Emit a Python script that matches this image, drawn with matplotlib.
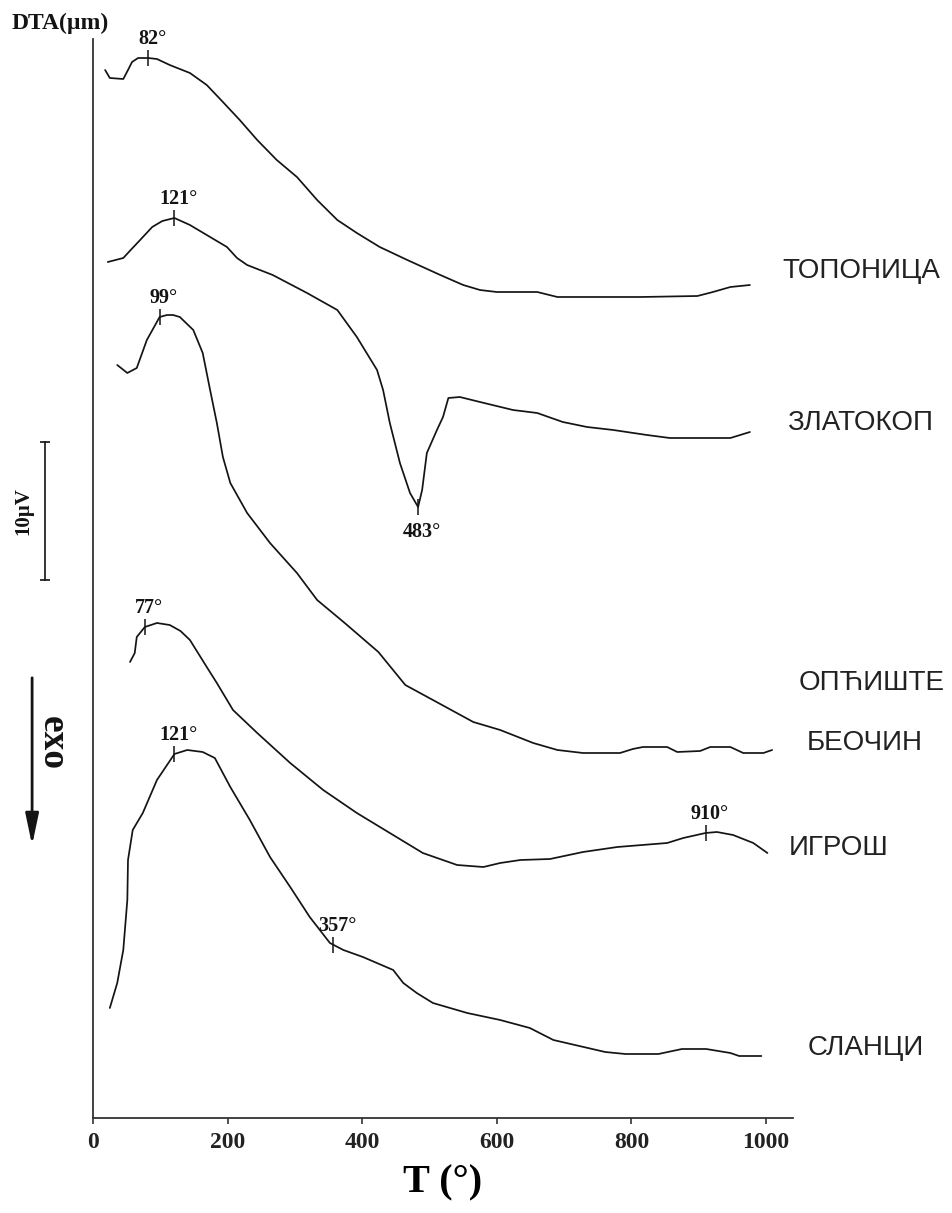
import numpy as np
import matplotlib
matplotlib.use("Agg")
import matplotlib.pyplot as plt

# DTA traces, temperature in deg C, signal in chart units (138 units = 10 uV)
T_TOPONICA = [18, 25, 45, 52, 58, 67, 82, 95, 114, 144, 169, 193, 218, 244, 273, 303, 333,
              363, 392, 426, 467, 516, 550, 575, 600, 660, 690, 813, 898, 921, 947, 976]
Y_TOPONICA = [1048, 1040, 1039, 1048, 1056, 1060, 1060, 1059, 1053, 1045, 1033, 1016, 998, 978,
              958, 941, 918, 898, 885, 871, 858, 843, 833, 828, 826, 826, 821, 821, 822, 826, 831, 833]

T_ZLATOKOP = [22, 45, 56, 70, 88, 103, 121, 144, 169, 199, 214, 229, 267, 318, 363, 392, 422,
              431, 441, 456, 471, 483, 489, 496, 511, 520, 528, 545, 575, 624, 660, 698, 734,
              773, 823, 857, 947, 976]
Y_ZLATOKOP = [856, 860, 868, 878, 891, 897, 900, 893, 883, 871, 860, 853, 843, 825, 808, 781,
              748, 728, 695, 655, 625, 611, 628, 665, 688, 701, 720, 721, 716, 708, 705, 696,
              691, 688, 683, 680, 680, 686]

T_BEOCIN = [36, 51, 65, 80, 99, 110, 119, 129, 149, 163, 174, 184, 193, 204, 229, 263, 303,
            333, 374, 424, 464, 505, 565, 605, 654, 690, 728, 783, 802, 817, 853, 868, 902,
            917, 947, 966, 996, 1009]
Y_BEOCIN = [753, 745, 750, 778, 801, 803, 803, 801, 788, 765, 728, 695, 661, 635, 605, 575, 545,
            518, 495, 466, 433, 418, 396, 388, 375, 368, 365, 365, 369, 371, 371, 366, 367,
            371, 371, 365, 365, 368]

T_IGROS = [55, 62, 65, 77, 95, 114, 130, 144, 169, 184, 208, 244, 293, 342, 392, 441, 490, 541,
           580, 605, 635, 679, 728, 779, 853, 877, 910, 927, 951, 981, 1002]
Y_IGROS = [456, 465, 481, 491, 495, 493, 487, 478, 451, 435, 408, 385, 355, 328, 305, 285, 265,
           253, 251, 255, 258, 259, 266, 271, 275, 280, 285, 286, 283, 275, 265]

T_SLANCI = [25, 36, 45, 51, 52, 59, 74, 95, 121, 140, 163, 181, 204, 233, 263, 293, 322, 352,
            372, 401, 446, 461, 481, 505, 556, 605, 649, 684, 761, 791, 840, 875, 911, 947,
            960, 993]
Y_SLANCI = [110, 135, 168, 218, 258, 288, 305, 338, 364, 368, 366, 360, 331, 298, 261, 231, 201,
            175, 168, 161, 148, 135, 125, 115, 105, 98, 90, 78, 66, 64, 64, 69, 69, 65, 62, 62]

CURVES = [(T_TOPONICA, Y_TOPONICA), (T_ZLATOKOP, Y_ZLATOKOP), (T_BEOCIN, Y_BEOCIN),
          (T_IGROS, Y_IGROS), (T_SLANCI, Y_SLANCI)]

# peak temperatures marked on the traces: (curve, temperature, label above?)
PEAKS = [(0, 82, True), (1, 121, True), (1, 483, False), (2, 99, True),
         (3, 77, True), (3, 910, True), (4, 121, True), (4, 357, True)]

# sample names on the right, with the signal level they sit at
NAMES = ["ТОПОНИЦА", "ЗЛАТОКОП", "ОПЋИШТЕ", "БЕОЧИН", "ИГРОШ", "СЛАНЦИ"]
NAME_T = [1024, 1031, 1049, 1061, 1034, 1061]
NAME_Y = [847, 695, 435, 375, 270, 70]

X_TICKS = [0, 200, 400, 600, 800, 1000]
SCALE_UV = 10
SCALE_UNITS = 138

serif = "Liberation Serif"
ink = "#141414"

fig = plt.figure(figsize=(9.52, 12.13), dpi=100)
ax = fig.add_axes([93 / 952, 95 / 1213, 700 / 952, 1079 / 1213])
ax.set_xlim(0, 1040)
ax.set_ylim(0, 1079)

for T, Y in CURVES:
    ax.plot(T, Y, color=ink, lw=1.25, solid_joinstyle="round", solid_capstyle="round")

for ci, temp, above in PEAKS:
    T, Y = CURVES[ci]
    y = np.interp(temp, T, Y)
    ax.plot([temp], [y], marker="|", ms=12, mew=1.1, color=ink)
    ax.annotate(f"{temp}°", xy=(temp, y), xytext=(3, 10 if above else -11),
                textcoords="offset points", ha="center",
                va="baseline" if above else "top",
                fontsize=14.5, fontweight="bold", family=serif, color=ink)

for name, t, y in zip(NAMES, NAME_T, NAME_Y):
    ax.text(t, y, name, ha="left", va="center", fontsize=20,
            family="Liberation Sans", color="#222222", clip_on=False)

for side in ("top", "right"):
    ax.spines[side].set_visible(False)
for side in ("left", "bottom"):
    ax.spines[side].set_linewidth(1.3)
    ax.spines[side].set_color("#333333")

ax.set_yticks([])
ax.set_xticks(X_TICKS)
ax.set_xticklabels([str(v) for v in X_TICKS], fontsize=17, fontweight="bold", family=serif)
ax.tick_params(axis="x", direction="out", length=4, width=1.1, pad=6, colors="#222222")
ax.set_xlabel("T (°)", fontsize=29, fontweight="bold", family=serif, labelpad=8)

# 10 uV scale bar and exo arrow left of the axis
ytr = ax.get_yaxis_transform()
bar_top = 676
ax.plot([-0.0686, -0.0686], [bar_top, bar_top - SCALE_UNITS], transform=ytr,
        color=ink, lw=1.2, clip_on=False)
ax.plot([-0.0686, -0.0686], [bar_top, bar_top - SCALE_UNITS], transform=ytr, ls="none",
        marker="_", ms=7, mew=1.2, color=ink, clip_on=False)
ax.text(-0.1, bar_top - SCALE_UNITS / 2, f"{SCALE_UV}µV", transform=ytr, rotation=90,
        ha="center", va="center", fontsize=15, fontweight="bold", family=serif, color=ink)

ax.annotate("", xy=(-0.087, 270), xytext=(-0.087, 443), xycoords=ytr, textcoords=ytr,
            arrowprops=dict(arrowstyle="-|>,head_length=1.9,head_width=0.4",
                            lw=2, color=ink), annotation_clip=False)
ax.text(-0.0586, 375, "exo", transform=ytr, rotation=-90, ha="center", va="center",
        fontsize=27, fontweight="bold", family=serif, color=ink)

fig.text(12 / 952, 1 - 23 / 1213, "DTA(µm)", ha="left", va="center",
         fontsize=17, fontweight="bold", family=serif, color=ink)

fig.savefig("out.png", dpi=100, facecolor="white")
